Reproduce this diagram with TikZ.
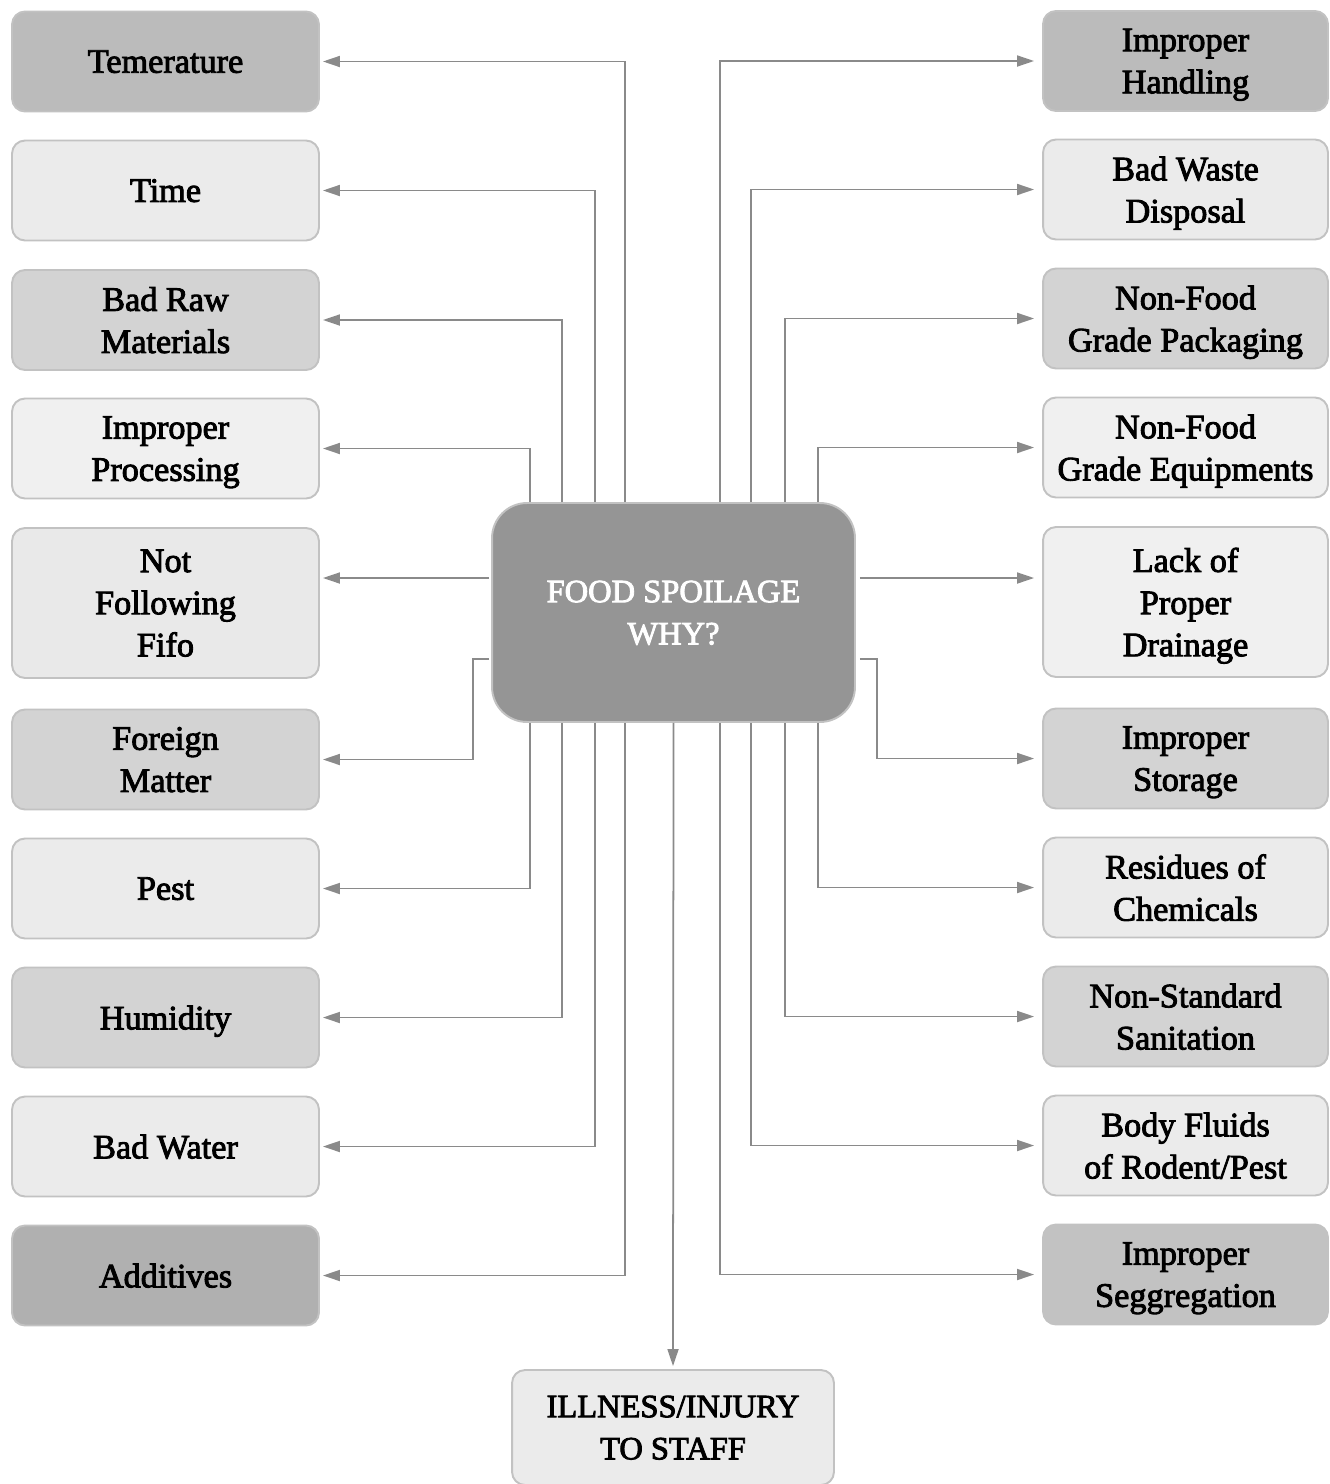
\documentclass[tikz,border=0pt]{standalone}
\usepackage{fontspec}
\setmainfont{Liberation Serif}
\newfontfamily\boxfont{Liberation Serif}[FakeBold=2.6]
\usetikzlibrary{calc,arrows.meta}
\definecolor{linegray}{HTML}{8A8A8A}
\definecolor{boxline}{HTML}{C2C2C2}
\definecolor{dark}{HTML}{BBBBBB}
\definecolor{mid}{HTML}{D3D3D3}
\definecolor{light}{HTML}{EBEBEB}
\definecolor{pale}{HTML}{F0F0F0}
\definecolor{core}{HTML}{959595}

\tikzset{
  cause/.style={draw=boxline, line width=1.1pt, rounded corners=0.26cm,
    minimum width=6.14cm, minimum height=2cm, align=center, inner sep=0pt,
    text depth=0pt, font=\boxfont\fontsize{19.5}{24}\selectfont},
  rcause/.style={cause, minimum width=5.7cm},
  capsfont/.style={font=\boxfont\fontsize{18.5}{24}\selectfont},
  arr/.style={draw=linegray, line width=1pt,
    -{Triangle[length=0.34cm,width=0.22cm]}, shorten >=0.06cm},
  rarr/.style={arr, shorten >=0.16cm},
}

\begin{document}
\begin{tikzpicture}[x=0.02cm,y=-0.02cm]
\useasboundingbox (0,0) rectangle (1329,1484);

% centre
\node[cause, capsfont, fill=core, text=white, minimum width=7.26cm, minimum height=4.38cm,
  rounded corners=0.7cm] (c) at (673.5,612.5) {FOOD SPOILAGE\\WHY?};

% left column
\node[cause, fill=dark] (temp) at (165.5,61.5) {Temerature};
\node[cause, fill=light] (time) at (165.5,190.5) {Time};
\node[cause, fill=mid] (raw) at (165.5,320) {Bad Raw\\Materials};
\node[cause, fill=pale] (proc) at (165.5,448.5) {Improper\\Processing};
\node[cause, fill=light!90!mid, minimum height=3cm] (fifo) at (165.5,603) {Not\\Following\\Fifo};
\node[cause, fill=mid] (fm) at (165.5,759.5) {Foreign\\Matter};
\node[cause, fill=light] (pest) at (165.5,888.5) {Pest};
\node[cause, fill=mid] (hum) at (165.5,1017.5) {Humidity};
\node[cause, fill=light] (water) at (165.5,1146.5) {Bad Water};
\node[cause, fill=dark!94!black] (add) at (165.5,1275.5) {Additives};

% right column
\node[rcause, fill=dark] (hand) at (1185.5,61) {Improper\\Handling};
\node[rcause, fill=light] (waste) at (1185.5,189.5) {Bad Waste\\Disposal};
\node[rcause, fill=mid] (pack) at (1185.5,318.5) {Non-Food\\Grade Packaging};
\node[rcause, fill=pale] (equip) at (1185.5,447.5) {Non-Food\\Grade Equipments};
\node[rcause, fill=pale, minimum height=3cm] (drain) at (1185.5,602) {Lack of\\Proper\\Drainage};
\node[rcause, fill=mid] (store) at (1185.5,758.5) {Improper\\Storage};
\node[rcause, fill=light] (chem) at (1185.5,887.5) {Residues of\\Chemicals};
\node[rcause, fill=mid] (sanit) at (1185.5,1016.5) {Non-Standard\\Sanitation};
\node[rcause, fill=light] (fluid) at (1185.5,1145.5) {Body Fluids\\of Rodent/Pest};
\node[rcause, fill=mid!92!black] (segg) at (1185.5,1274.5) {Improper\\Seggregation};

% bottom
\node[cause, capsfont, fill=light, minimum width=6.44cm, minimum height=2.3cm] (ill) at (673,1427.5)
  {ILLNESS/INJURY\\TO STAFF};

% left connectors
\draw[arr] ($(c.north)+(-48.5,0)$) |- (temp.east);
\draw[arr] ($(c.north)+(-78.5,0)$) |- (time.east);
\draw[arr] ($(c.north)+(-111.5,0)$) |- (raw.east);
\draw[arr] ($(c.north)+(-143.5,0)$) |- (proc.east);
\coordinate (fifoin) at ($(c.west)+(-2,-34.5)$);
\draw[arr] (fifoin) -- (fifoin -| fifo.east);
\draw[arr] ($(c.west)+(-2,46.5)$) -- ++(-16,0) |- (fm.east);
\draw[arr] ($(c.south)+(-143.5,0)$) |- (pest.east);
\draw[arr] ($(c.south)+(-111.5,0)$) |- (hum.east);
\draw[arr] ($(c.south)+(-78.5,0)$) |- (water.east);
\draw[arr] ($(c.south)+(-48.5,0)$) |- (add.east);

% right connectors
\draw[rarr] ($(c.north)+(46.5,0)$) |- (hand.west);
\draw[rarr] ($(c.north)+(77.5,0)$) |- (waste.west);
\draw[rarr] ($(c.north)+(111.5,0)$) |- (pack.west);
\draw[rarr] ($(c.north)+(144.5,0)$) |- (equip.west);
\coordinate (drainin) at ($(c.east)+(4,-34.5)$);
\draw[rarr] (drainin) -- (drainin -| drain.west);
\draw[rarr] ($(c.east)+(4,46.5)$) -- ++(17,0) |- (store.west);
\draw[rarr] ($(c.south)+(144.5,0)$) |- (chem.west);
\draw[rarr] ($(c.south)+(111.5,0)$) |- (sanit.west);
\draw[rarr] ($(c.south)+(77.5,0)$) |- (fluid.west);
\draw[rarr] ($(c.south)+(46.5,0)$) |- (segg.west);

% bottom connector
\draw[arr] (c.south) -- (ill.north);
\end{tikzpicture}
\end{document}
